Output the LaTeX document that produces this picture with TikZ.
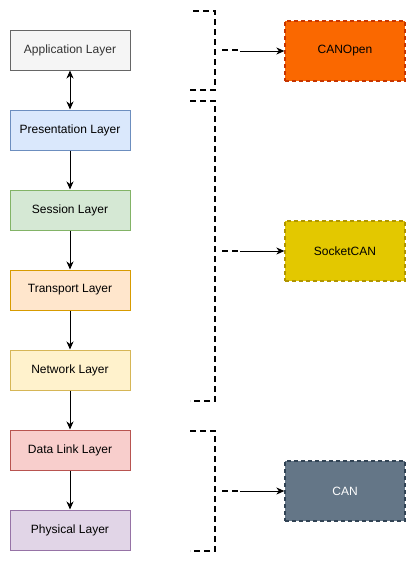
\documentclass[tikz,border=0pt]{standalone}
\usepackage{fontspec}
\setmainfont{Liberation Sans}
\usetikzlibrary{arrows.meta}
\definecolor{appF}{HTML}{F5F5F5}\definecolor{appS}{HTML}{666666}\definecolor{appT}{HTML}{333333}
\definecolor{preF}{HTML}{DAE8FC}\definecolor{preS}{HTML}{6C8EBF}
\definecolor{sesF}{HTML}{D5E8D4}\definecolor{sesS}{HTML}{82B366}
\definecolor{traF}{HTML}{FFE6CC}\definecolor{traS}{HTML}{D79B00}
\definecolor{netF}{HTML}{FFF2CC}\definecolor{netS}{HTML}{D6B656}
\definecolor{dllF}{HTML}{F8CECC}\definecolor{dllS}{HTML}{B85450}
\definecolor{phyF}{HTML}{E1D5E7}\definecolor{phyS}{HTML}{9673A6}
\definecolor{coF}{HTML}{FA6800}\definecolor{coS}{HTML}{C73500}
\definecolor{scF}{HTML}{E3C800}\definecolor{scS}{HTML}{B09500}
\definecolor{canF}{HTML}{647687}\definecolor{canS}{HTML}{314354}
\begin{document}
\begin{tikzpicture}[x=1pt,y=-1pt,
  layer/.style={draw,line width=1pt,minimum width=120pt,minimum height=40pt,inner sep=0pt,font=\fontsize{12}{14}\selectfont},
  proto/.style={draw,line width=1.3pt,dash pattern=on 4pt off 3pt,minimum width=120pt,minimum height=60pt,inner sep=0pt,font=\fontsize{12}{14}\selectfont},
  brk/.style={line width=2pt,dash pattern=on 6pt off 4pt},
  arr/.style={line width=1pt,-{Stealth[length=8pt,width=7pt,inset=2.5pt]}},
  darr/.style={line width=1pt,{Stealth[length=8pt,width=7pt,inset=2.5pt]}-{Stealth[length=8pt,width=7pt,inset=2.5pt]}}]
\useasboundingbox (0,0) rectangle (417,562);
\fill[white] (0,0) rectangle (417,562);
\node[layer,fill=appF,draw=appS,text=appT] (app) at (70,50) {Application Layer};
\node[layer,fill=preF,draw=preS] (pre) at (70,130) {Presentation Layer};
\node[layer,fill=sesF,draw=sesS] (ses) at (70,210) {Session Layer};
\node[layer,fill=traF,draw=traS] (tra) at (70,290) {Transport Layer};
\node[layer,fill=netF,draw=netS] (net) at (70,370) {Network Layer};
\node[layer,fill=dllF,draw=dllS] (dll) at (70,450) {Data Link Layer};
\node[layer,fill=phyF,draw=phyS] (phy) at (70,530) {Physical Layer};
\draw[darr] (app) -- (pre);
\draw[arr] (pre) -- (ses);
\draw[arr] (ses) -- (tra);
\draw[arr] (tra) -- (net);
\draw[arr] (net) -- (dll);
\draw[arr] (dll) -- (phy);
\node[proto,fill=coF,draw=coS] (co) at (345,51) {CANOpen};
\node[proto,fill=scF,draw=scS] (sc) at (345,251) {SocketCAN};
\node[proto,fill=canF,draw=canS,text=white] (can) at (345,491) {CAN};
% brackets
\draw[brk] (193,11) -- (215,11) -- (215,90) -- (190,90);
\draw[brk] (222,50) -- (240,50);
\coordinate (t1) at (240,51);
\draw[brk] (190,101) -- (215,101) -- (215,401) -- (190,401);
\draw[brk] (222,251) -- (240,251);
\coordinate (t2) at (240,251);
\draw[brk] (190,431) -- (215,431) -- (215,551) -- (190,551);
\draw[brk] (222,491) -- (240,491);
\coordinate (t3) at (240,491);
\draw[arr] (t1) -- (co.west);
\draw[arr] (t2) -- (sc.west);
\draw[arr] (t3) -- (can.west);
\end{tikzpicture}
\end{document}
